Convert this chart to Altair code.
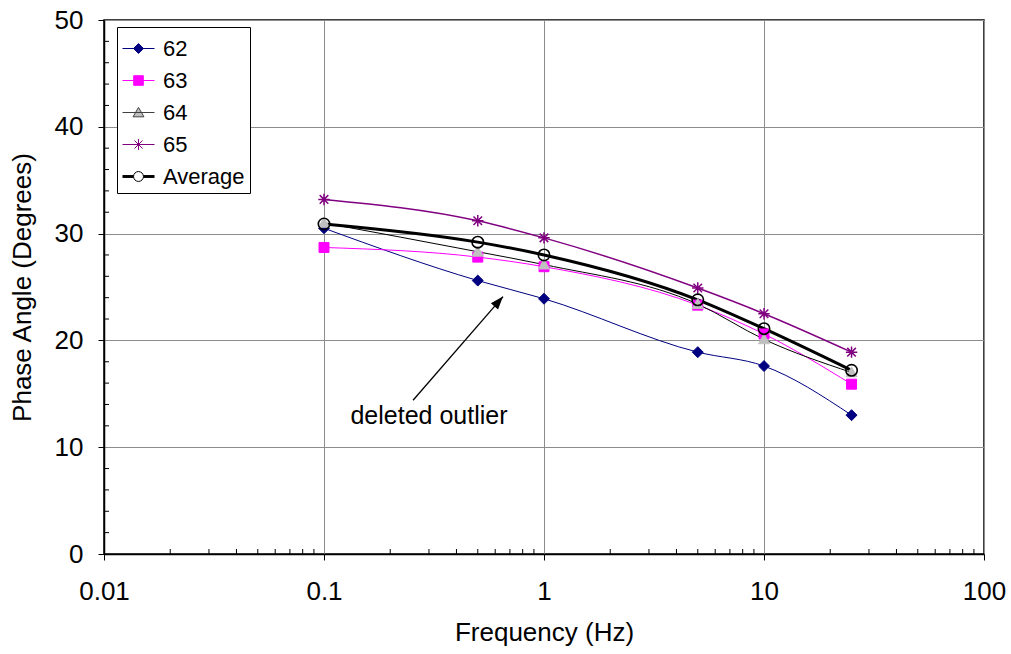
import altair as alt
import pandas as pd

# ---------------- data ----------------
freq = [0.1, 0.5, 1, 5, 10, 25]
s62 = [30.5, 25.6, 23.9, 18.9, 17.6, 13.0]
s63 = [28.7, 27.8, 26.9, 23.3, 20.6, 15.9]
s64 = [31.0, 28.3, 27.1, 23.4, 20.1, 17.0]
s65 = [33.2, 31.2, 29.6, 24.9, 22.5, 18.9]
savg = [30.9, 29.2, 28.0, 23.8, 21.1, 17.2]
names = ["62", "63", "64", "65", "Average"]

x_major = [0.01, 0.1, 1, 10, 100]
x_minor = [0.02, 0.03, 0.04, 0.05, 0.06, 0.07, 0.08, 0.09,
           0.2, 0.3, 0.4, 0.5, 0.6, 0.7, 0.8, 0.9,
           2, 3, 4, 5, 6, 7, 8, 9,
           20, 30, 40, 50, 60, 70, 80, 90]
y_major = [0, 10, 20, 30, 40, 50]
y_minor = [2, 4, 6, 8, 12, 14, 16, 18, 22, 24, 26, 28,
           32, 34, 36, 38, 42, 44, 46, 48]

note_text = ["deleted outlier"]
note_x = [0.30]
note_y = [12.9]
arrow_x = [0.254, 0.651]
arrow_y = [14.4, 24.1]

# ---------------- styles ----------------
W, H = 880, 534
FONT = "Liberation Sans"
line_color = {"62": "#000080", "63": "#FF00FF", "64": "#000000", "65": "#800080", "Average": "#000000"}
line_width = {"62": 1, "63": 1, "64": 1, "65": 1.5, "Average": 3}
marker_path = {
    "62": "M0,-1L1,0L0,1L-1,0Z",
    "63": "M-1,-1L1,-1L1,1L-1,1Z",
    "64": "M0,-1L1,0.8L-1,0.8Z",
    "65": "M-1,0L1,0M0,-1L0,1M-0.75,-0.75L0.75,0.75M-0.75,0.75L0.75,-0.75",
    "Average": "circle",
}
marker_fill = {"62": "#000080", "63": "#FF00FF", "64": "#C0C0C0", "65": "#800080", "Average": "transparent"}
marker_stroke = {"62": "#000080", "63": "#FF00FF", "64": "#C0C0C0", "65": "#800080", "Average": "#000000"}
marker_size = {"62": 120, "63": 100, "64": 120, "65": 130, "Average": 130}
marker_sw = {"62": 1, "63": 1, "64": 1, "65": 1.5, "Average": 1.6}

legend_path = {
    "62": "M-1,0L1,0M0,-0.31L0.31,0L0,0.31L-0.31,0Z",
    "63": "M-1,0L1,0M-0.3,-0.3L0.3,-0.3L0.3,0.3L-0.3,0.3Z",
    "64": "M-1,0L1,0M0,-0.32L0.34,0.27L-0.34,0.27Z",
    "65": "M-1,0L1,0M0,-0.34L0,0.34M-0.25,-0.25L0.25,0.25M-0.25,0.25L0.25,-0.25",
    "Average": ("M-1,-0.06L-0.31,-0.06M-1,0L-0.31,0M-1,0.06L-0.31,0.06"
                "M0.31,-0.06L1,-0.06M0.31,0L1,0M0.31,0.06L1,0.06"
                "M0.31,0A0.31,0.31 0 1,1 -0.31,0A0.31,0.31 0 1,1 0.31,0Z"),
}
legend_fill = {"62": "#000080", "63": "#FF00FF", "64": "#C0C0C0", "65": "#800080", "Average": "#FFFFFF"}
legend_stroke = {"62": "#000080", "63": "#FF00FF", "64": "#404040", "65": "#800080", "Average": "#000000"}

# ---------------- tables ----------------
series_vals = {"62": s62, "63": s63, "64": s64, "65": s65, "Average": savg}
rows = []
for n in names:
    for f, v in zip(freq, series_vals[n]):
        rows.append({"series": n, "freq": f, "val": v})
df = pd.DataFrame(rows)

xscale = alt.Scale(type="log", domain=[0.01, 100], nice=False)
yscale = alt.Scale(domain=[0, 50], nice=False, zero=False)

X = alt.X("freq:Q", scale=xscale,
          axis=alt.Axis(values=x_major, format="~g", title="Frequency (Hz)",
                        grid=True, gridColor="#8C8C8C", tickSize=6, labelPadding=18,
                        titlePadding=15))
Y = alt.Y("val:Q", scale=yscale,
          axis=alt.Axis(values=y_major, title="Phase Angle (Degrees)",
                        grid=True, gridColor="#8C8C8C", tickSize=6, labelPadding=15,
                        titlePadding=19))

base = alt.Chart(df)
layers = []
for n in names:
    sub = base.transform_filter(alt.datum.series == n)
    layers.append(sub.mark_line(color=line_color[n], strokeWidth=line_width[n],
                                interpolate="monotone").encode(x=X, y=Y))
for n in names:
    sub = base.transform_filter(alt.datum.series == n)
    layers.append(sub.mark_point(shape=marker_path[n], fill=marker_fill[n], filled=True,
                                 stroke=marker_stroke[n], strokeWidth=marker_sw[n],
                                 size=marker_size[n], opacity=1).encode(x=X, y=Y))

# legend layer (no visible marks, only drives the legend)
legend_layer = base.transform_filter(alt.datum.freq < 0).mark_point(filled=True, opacity=1).encode(
    x=X, y=Y,
    fill=alt.Fill("series:N", scale=alt.Scale(domain=names, range=[legend_fill[n] for n in names]),
                  legend=alt.Legend(title=None)),
    stroke=alt.Stroke("series:N", scale=alt.Scale(domain=names, range=[legend_stroke[n] for n in names]),
                      legend=alt.Legend(title=None)),
    shape=alt.Shape("series:N", scale=alt.Scale(domain=names, range=[legend_path[n] for n in names]),
                    legend=alt.Legend(title=None)),
)
layers.append(legend_layer)

# minor ticks (inside)
xm = pd.DataFrame({"freq": x_minor})
layers.append(alt.Chart(xm).mark_rule(color="#000000", strokeWidth=1).encode(
    x=alt.X("freq:Q", scale=xscale), y=alt.value(H - 5), y2=alt.value(H)))
ym = pd.DataFrame({"val": y_minor})
layers.append(alt.Chart(ym).mark_rule(color="#000000", strokeWidth=1).encode(
    y=alt.Y("val:Q", scale=yscale), x=alt.value(0), x2=alt.value(5)))

# annotation
ann = pd.DataFrame({"freq": note_x, "val": note_y, "t": note_text})
layers.append(alt.Chart(ann).mark_text(font=FONT, fontSize=25, color="#000000").encode(
    x=alt.X("freq:Q", scale=xscale), y=alt.Y("val:Q", scale=yscale), text="t:N"))
arr = pd.DataFrame({"freq": arrow_x, "val": arrow_y, "o": [0, 1]})
layers.append(alt.Chart(arr).mark_line(color="#000000", strokeWidth=1.3).encode(
    x=alt.X("freq:Q", scale=xscale), y=alt.Y("val:Q", scale=yscale), order="o:Q"))
tip = arr[arr["o"] == 1]
layers.append(alt.Chart(tip).mark_point(shape="M0,0L0.55,1.5L-0.55,1.5Z", filled=True,
                                        color="#000000", size=300, angle=41, opacity=1).encode(
    x=alt.X("freq:Q", scale=xscale), y=alt.Y("val:Q", scale=yscale)))

chart = alt.layer(*layers).properties(
    width=W, height=H,
    autosize=alt.AutoSizeParams(type="none"),
    padding={"left": 104, "top": 20, "right": 27, "bottom": 100},
    background="#FFFFFF",
).configure_view(
    stroke="#000000", strokeWidth=1.5
).configure_axis(
    labelFont=FONT, titleFont=FONT, labelFontSize=26, titleFontSize=26,
    labelColor="#000000", titleColor="#000000", titleFontWeight="normal",
    domainColor="#000000", domainWidth=1.5, tickColor="#000000", tickWidth=1,
    labelFlush=False, labelOverlap=False,
).configure_legend(
    orient="none", legendX=13, legendY=7,
    strokeColor="#000000", fillColor="#FFFFFF", padding=5,
    labelFont=FONT, labelFontSize=22, labelColor="#000000", labelOffset=8,
    symbolSize=1024, symbolStrokeWidth=1, rowPadding=4, symbolOpacity=1,
)

chart.save("out.html", embed_options={"renderer": "svg", "actions": False})
